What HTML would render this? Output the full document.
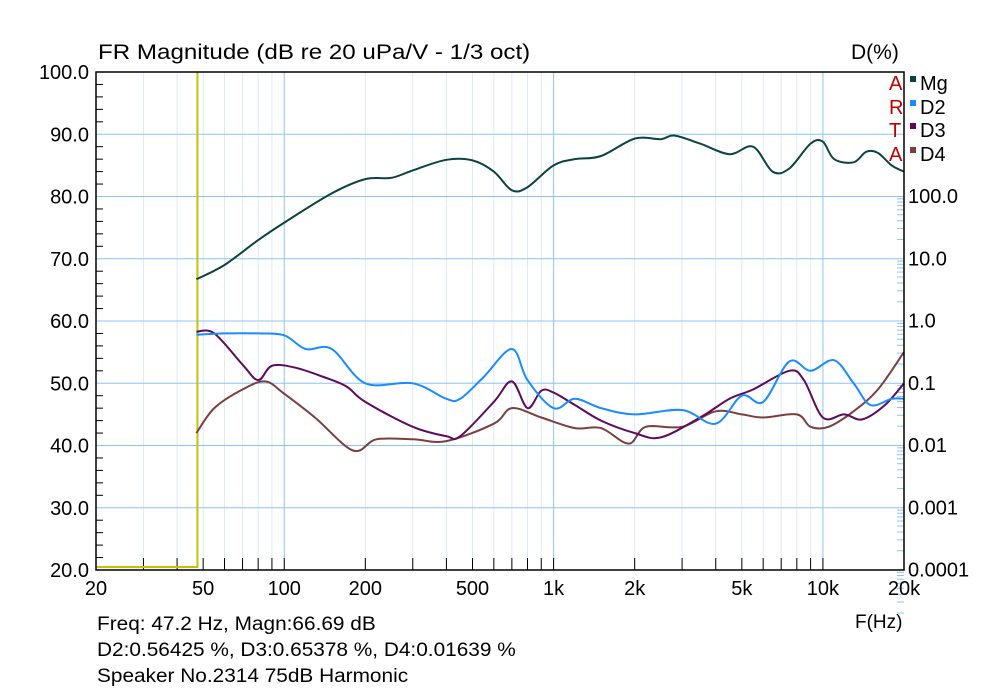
<!DOCTYPE html>
<html><head><meta charset="utf-8"><style>
body{margin:0;background:#fff;}
svg{display:block;font-family:"Liberation Sans",sans-serif;}
.sx{transform-origin:0 0;white-space:nowrap}
</style></head><body>
<svg id="chart" width="1000" height="694"></svg>
<script>
const mgF=[47.2,60,80,100,150,200,250,300,400,500,600,700,800,1000,1200,1500,2000,2500,2800,3500,4500,5500,6500,7500,9000,10000,11000,13000,14500,16000,18000,20000];
const mgV=[66.7,69,73,75.8,80.5,82.8,83,84.2,85.9,85.8,84,81,81.5,85,86,86.5,89.3,89.2,89.8,88.5,86.8,88,84,84.5,88.5,88.8,86,85.5,87.2,87,85,84];
const d2F=[47.2,60,80,100,120,150,200,300,400,450,550,700,800,1000,1200,1500,2000,3000,4000,5000,6000,7500,9000,11000,13000,15000,18000,20000];
const d2V=[57.8,58,58,57.7,55.5,55.5,50,50,47.5,47.5,51,55.5,50.5,46,47.5,46,45,45.7,43.5,48,47,53.5,52,53.7,50,46.5,47.5,47.5];
const d3F=[47.2,55,70,80,90,110,140,170,200,300,400,450,600,700,800,900,1000,1200,1500,2000,2500,3500,4500,5500,7500,8500,10000,12000,14000,17000,20000];
const d3V=[58.3,58,53,50.5,52.8,52.5,51,49.5,47,43,41.5,41.5,47,50.3,46,48.8,48.5,46.5,44,42,41.3,44.5,47.5,49,52,50.5,44.5,45,44.2,46.5,50];
const d4F=[47.2,55,70,85,100,130,180,220,300,400,600,700,900,1200,1500,1900,2200,3000,4000,5000,6000,8000,9000,10500,13000,16000,20000];
const d4V=[42,46,49,50.3,48.3,44.5,39.2,41,41,40.7,43.5,46,44.5,42.8,42.8,40.3,43,43,45.5,45,44.5,45,43,43,45.5,49,55];
const yTicks=["100.0","90.0","80.0","70.0","60.0","50.0","40.0","30.0","20.0"];
const rTicks=["100.0","10.0","1.0","0.1","0.01","0.001","0.0001"];
const xTickF=[20,50,100,200,500,1000,2000,5000,10000,20000];
const xTickL=["20","50","100","200","500","1k","2k","5k","10k","20k"];

const L=96,R=904,T=72,B=570;
const xs=f=>L+(R-L)*Math.log10(f/20)/3;
const ys=v=>B-(B-T)*(v-20)/80;
const svg=document.getElementById('chart');
const NS='http://www.w3.org/2000/svg';
function mk(tag,attrs,parent){const e=document.createElementNS(NS,tag);for(const k in attrs)e.setAttribute(k,attrs[k]);(parent||svg).appendChild(e);return e;}
for(let d=10;d<=10000;d*=10)for(let m=1;m<10;m++){const f=d*m;if(f<20||f>20000)continue;
 const major=(m===1);const x=xs(f);
 const g=mk('line',{x1:x,x2:x,y1:T,y2:B,stroke:major?'#8cc4f8':'#dcebfb','stroke-width':1});
 
 const t=mk('line',{x1:x,x2:x,y1:B,y2:B-12,stroke:'#000','stroke-width':1});
 }
for(let i=0;i<yTicks.length;i++){const v=100-i*10;const y=ys(v);
 const g=mk('line',{x1:L,x2:R,y1:y,y2:y,stroke:'#8cc4f8','stroke-width':1});
 
 const t=mk('text',{x:L-7,y:y+7,'text-anchor':'end','font-size':20});t.textContent=yTicks[i];
 
 for(let k=1;k<5;k++){const yy=ys(v-2*k);if(v-2*k<20)break;
  const mt=mk('line',{x1:L,x2:L+7,y1:yy,y2:yy,stroke:'#000'});
  }
}
for(let i=0;i<rTicks.length;i++){const y=196+i*62.25;
 const t=mk('text',{x:R+4,y:y+7,'font-size':20});t.textContent=rTicks[i];
 
 for(let m=2;m<10;m++){const yy=y+62.25*(1-Math.log10(m));if(yy<T)continue;
  const mt=mk('line',{x1:R-7,x2:R,y1:yy,y2:yy,stroke:'#8cc4f8'});
  }
}
for(let i=0;i<xTickF.length;i++){const t=mk('text',{x:xs(xTickF[i]),y:595,'text-anchor':'middle','font-size':20});t.textContent=xTickL[i];
 }
const cx=xs(47.2)+1;
let c=mk('polyline',{points:`${L},${B-3} ${cx},${B-3} ${cx},${T}`,fill:'none',stroke:'#c8c000','stroke-width':2});

function series(F,V,color,name){
 const P=F.map((f,i)=>[xs(f),ys(V[i])]);
 let d='M'+P[0][0].toFixed(1)+','+P[0][1].toFixed(1);
 for(let i=0;i<P.length-1;i++){const p0=P[Math.max(0,i-1)],p1=P[i],p2=P[i+1],p3=P[Math.min(P.length-1,i+2)];
  const c1=[p1[0]+(p2[0]-p0[0])/6,p1[1]+(p2[1]-p0[1])/6],c2=[p2[0]-(p3[0]-p1[0])/6,p2[1]-(p3[1]-p1[1])/6];
  d+=` C${c1[0].toFixed(1)},${c1[1].toFixed(1)} ${c2[0].toFixed(1)},${c2[1].toFixed(1)} ${p2[0].toFixed(1)},${p2[1].toFixed(1)}`;}
 const e=mk('path',{d:d,fill:'none',stroke:color,'stroke-width':2,'stroke-linejoin':'round'});
 }
series(d4F,d4V,'#7b3f3f','d4-line');
series(d3F,d3V,'#5c0a5c','d3-line');
series(d2F,d2V,'#1a8cff','d2-line');
series(mgF,mgV,'#0b4340','mg-line');
const fr=mk('rect',{x:L,y:T,width:R-L,height:B-T,fill:'none',stroke:'#000','stroke-width':1.5});

</script>
<div style="position:absolute;left:0;top:0;width:1000px;height:694px;font-family:'Liberation Sans',sans-serif;color:#000;pointer-events:none">
<div class="sx" style="position:absolute;left:98px;top:41px;font-size:21px;transform:scaleX(1.15)">FR Magnitude (dB re 20 uPa/V - 1/3 oct)</div>
<div style="position:absolute;left:851px;top:41px;font-size:21px">D(%)</div>
<div style="position:absolute;left:889px;top:73px;font-size:20px;color:#c00000;line-height:23.5px">A<br>R<br>T<br>A</div>
<div style="position:absolute;left:910px;top:73px;font-size:20px;line-height:23.5px">
<div><span style="display:inline-block;width:6px;height:6px;background:#0b4340;vertical-align:8px;margin-right:4px"></span>Mg</div>
<div><span style="display:inline-block;width:6px;height:6px;background:#1a8cff;vertical-align:8px;margin-right:4px"></span>D2</div>
<div><span style="display:inline-block;width:6px;height:6px;background:#5c0a5c;vertical-align:8px;margin-right:4px"></span>D3</div>
<div><span style="display:inline-block;width:6px;height:6px;background:#7b3f3f;vertical-align:8px;margin-right:4px"></span>D4</div>
</div>
<div style="position:absolute;left:855px;top:612px;font-size:19px">F(Hz)</div>
<div class="sx" style="position:absolute;left:97px;top:612px;font-size:19px;line-height:26px;transform:scaleX(1.095)">Freq: 47.2 Hz, Magn:66.69 dB<br>D2:0.56425 %, D3:0.65378 %, D4:0.01639 %</div>
<div class="sx" style="position:absolute;left:97px;top:666px;font-size:19px;transform:scaleX(1.095)">Speaker No.2314 75dB Harmonic</div>
</div>
</body></html>
